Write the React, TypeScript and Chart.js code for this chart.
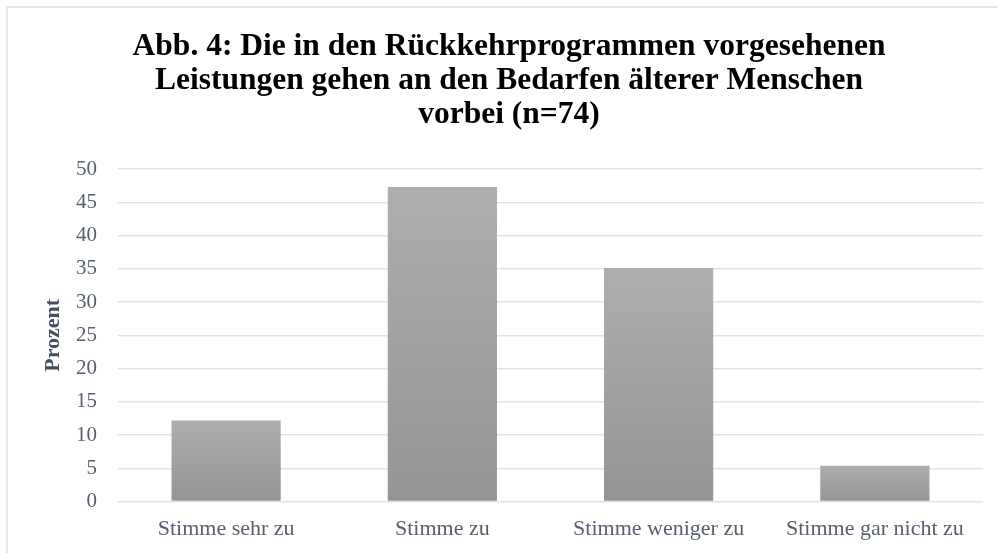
import React, { useEffect, useRef } from "react";
import { Chart, registerables } from "chart.js";

Chart.register(...registerables);

const titleLines = [
  "Abb. 4: Die in den Rückkehrprogrammen vorgesehenen",
  "Leistungen gehen an den Bedarfen älterer Menschen",
  "vorbei (n=74)",
];
const categories = ["Stimme sehr zu", "Stimme zu", "Stimme weniger zu", "Stimme gar nicht zu"];
const values = [12.2, 47.3, 35.1, 5.4];
const yAxisTitle = "Prozent";
const yMin = 0;
const yMax = 50;
const yStep = 5;

const SERIF = "'Liberation Serif', 'Times New Roman', serif";
const TEXT_COLOR = "#586070";
const GRID_COLOR = "#dfe3e8";

export default function App() {
  const canvasRef = useRef<HTMLCanvasElement | null>(null);

  useEffect(() => {
    const prevMargin = document.body.style.margin;
    document.body.style.margin = "0";
    const canvas = canvasRef.current;
    if (!canvas) return;
    const chart = new Chart(canvas, {
      type: "bar",
      data: {
        labels: categories,
        datasets: [
          {
            data: values,
            backgroundColor: (ctx: any) => {
              const ch = ctx.chart;
              const area = ch.chartArea;
              if (!area || ctx.type !== "data") return "#a2a2a2";
              const y = ch.scales.y;
              const top = y.getPixelForValue(ctx.raw);
              const bottom = y.getPixelForValue(0);
              const g = ch.ctx.createLinearGradient(0, top, 0, bottom);
              g.addColorStop(0, "#aeaeae");
              g.addColorStop(1, "#949494");
              return g;
            },
            borderWidth: 0,
            categoryPercentage: 0.505,
            barPercentage: 1,
          },
        ],
      },
      options: {
        animation: false,
        responsive: false,
        maintainAspectRatio: false,
        layout: { padding: { left: 35, right: 15, top: 0, bottom: -3 } },
        plugins: {
          legend: { display: false },
          tooltip: { enabled: false },
          title: {
            display: true,
            text: titleLines,
            color: "#000000",
            font: { family: SERIF, size: 31.5, weight: "bold", lineHeight: 34 / 31.5 },
            padding: { top: 30, bottom: 37 },
          },
        },
        scales: {
          x: {
            grid: { display: false, drawTicks: false },
            border: { display: false },
            ticks: {
              color: TEXT_COLOR,
              font: { family: SERIF, size: 22 },
              padding: 14,
              maxRotation: 0,
              autoSkip: false,
            },
          },
          y: {
            min: yMin,
            max: yMax,
            afterFit: (scale: any) => {
              scale.width = 83;
            },
            grid: { color: GRID_COLOR, lineWidth: 1.5, drawTicks: false },
            border: { display: false },
            ticks: {
              stepSize: yStep,
              color: TEXT_COLOR,
              font: { family: SERIF, size: 21 },
              padding: 21,
            },
            title: {
              display: true,
              text: yAxisTitle,
              color: "#44505f",
              font: { family: SERIF, size: 22, weight: "bold" },
              padding: { top: 5, bottom: 0 },
            },
          },
        },
      },
    });
    return () => {
      chart.destroy();
      document.body.style.margin = prevMargin;
    };
  }, []);

  return (
    <div
      style={{
        position: "fixed",
        left: 0,
        top: 0,
        width: 998,
        height: 553,
        overflow: "hidden",
        background: "#ffffff",
      }}
    >
      <div
        style={{
          position: "absolute",
          left: 6,
          top: 6,
          width: 1010,
          height: 580,
          border: "2px solid #e3e6ea",
          boxSizing: "border-box",
        }}
      />
      <canvas
        ref={canvasRef}
        width={998}
        height={553}
        style={{ position: "absolute", left: 0, top: 0, width: 998, height: 553 }}
      />
    </div>
  );
}
